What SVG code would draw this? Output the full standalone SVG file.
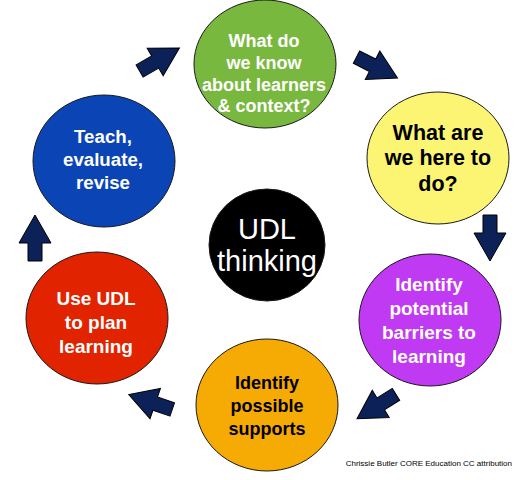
<svg xmlns="http://www.w3.org/2000/svg" width="527" height="480" viewBox="0 0 527 480">
<defs>
<style>
.n{stroke:#1a1a1a;stroke-width:1}
.t{font-family:"Liberation Sans",Arial,sans-serif;font-weight:bold;text-anchor:middle}
.w{fill:#fff}
.k{fill:#000}
.arr{fill:#0b2158;stroke:#000;stroke-width:1;stroke-linejoin:miter}
</style>
<polygon id="ar" points="-23,-7 -5,-7 -5,-16 23,0 -5,16 -5,7 -23,7"/>
</defs>
<rect width="527" height="480" fill="#fff"/>
<g id="connectors">
<use href="#ar" class="arr" transform="translate(159.5,59.5) rotate(-30)"/>
<use href="#ar" class="arr" transform="translate(377,67.5) rotate(27)"/>
<use href="#ar" class="arr" transform="translate(490,238) rotate(90)"/>
<use href="#ar" class="arr" transform="translate(376.5,406.5) rotate(148)"/>
<use href="#ar" class="arr" transform="translate(150.5,402) rotate(199)"/>
<use href="#ar" class="arr" transform="translate(35,238) rotate(-90)"/>
</g>
<g id="know">
<ellipse class="n" cx="265" cy="64" rx="71" ry="64" fill="#79b83f"/>
<text class="t w" font-size="18"><tspan x="264" y="47">What do</tspan><tspan x="264" y="69">we know</tspan><tspan x="264" y="90.5">about learners</tspan><tspan x="264" y="112">&amp; context?</tspan></text>
</g>
<g id="here">
<ellipse class="n" cx="438" cy="158" rx="71" ry="66" fill="#fcf574"/>
<text class="t k" font-size="21.5"><tspan x="438" y="140">What are</tspan><tspan x="438" y="165">we here to</tspan><tspan x="438" y="191">do?</tspan></text>
</g>
<g id="barriers">
<ellipse class="n" cx="430" cy="320" rx="71" ry="66" fill="#bf3af2"/>
<text class="t w" font-size="19"><tspan x="429" y="291">Identify</tspan><tspan x="429" y="315">potential</tspan><tspan x="429" y="339">barriers to</tspan><tspan x="429" y="363">learning</tspan></text>
</g>
<g id="supports">
<ellipse class="n" cx="267" cy="405" rx="71" ry="66" fill="#f6aa04"/>
<text class="t k" font-size="18"><tspan x="267" y="389">Identify</tspan><tspan x="267" y="412">possible</tspan><tspan x="267" y="435">supports</tspan></text>
</g>
<g id="plan">
<ellipse class="n" cx="97" cy="318" rx="71" ry="66" fill="#e22300"/>
<text class="t w" font-size="19"><tspan x="96" y="305">Use UDL</tspan><tspan x="96" y="329">to plan</tspan><tspan x="96" y="353">learning</tspan></text>
</g>
<g id="teach">
<ellipse class="n" cx="104" cy="161" rx="71" ry="66" fill="#0b45b5"/>
<text class="t w" font-size="18.7"><tspan x="103" y="143">Teach,</tspan><tspan x="103" y="166">evaluate,</tspan><tspan x="103" y="189">revise</tspan></text>
</g>
<g id="udl">
<ellipse class="n" cx="267" cy="245" rx="58" ry="56" fill="#000"/>
<text font-family="Liberation Sans,Arial,sans-serif" font-size="29" fill="#fff" text-anchor="middle"><tspan x="267" y="239">UDL</tspan><tspan x="267" y="271">thinking</tspan></text>
</g>
<text x="512" y="466" font-family="Liberation Sans,Arial,sans-serif" font-size="8" fill="#000" text-anchor="end">Chrissie Butler CORE Education CC attribution</text>
</svg>
